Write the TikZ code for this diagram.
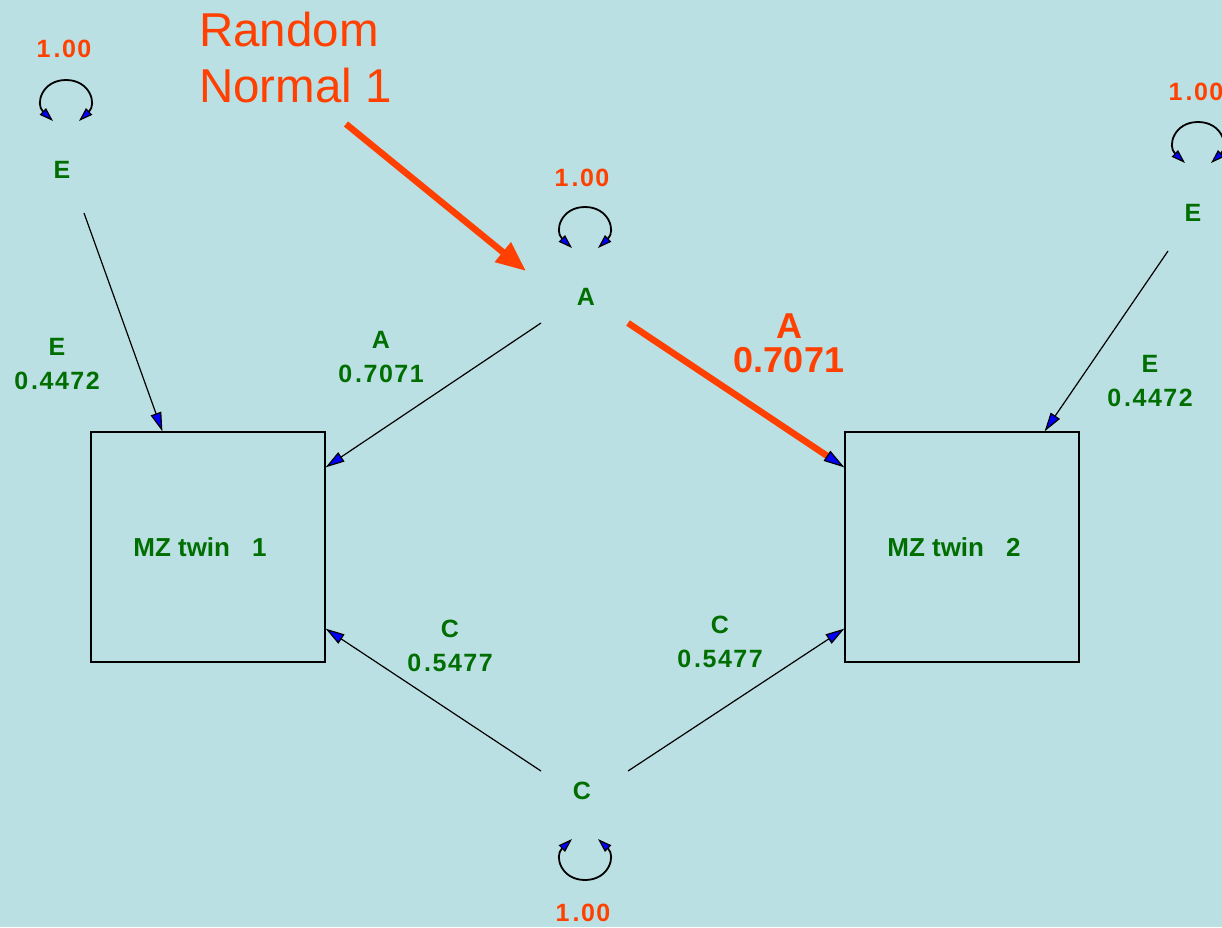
\documentclass[tikz,border=0pt]{standalone}
\usepackage{fontspec}
\setmainfont{Liberation Sans}
\usetikzlibrary{arrows.meta}
\definecolor{bg}{RGB}{187,224,227}
\definecolor{lbl}{RGB}{0,110,0}
\definecolor{hot}{RGB}{255,64,0}
\begin{document}
\begin{tikzpicture}[x=1pt,y=-1pt,
  lab/.style={font=\bfseries\fontsize{25}{34}\selectfont\addfontfeature{LetterSpace=6}, text=lbl, align=center, inner sep=0},
  val/.style={font=\bfseries\fontsize{25}{25}\selectfont\addfontfeature{LetterSpace=6}, text=hot, inner sep=0},
  big/.style={font=\bfseries\fontsize{36}{34}\selectfont, text=hot, align=center, inner sep=0},
  box/.style={draw, line width=1.2pt, minimum width=234pt, minimum height=230pt, inner sep=0,
    font=\bfseries\fontsize{26}{28}\selectfont, text=lbl},
  conn/.style={line width=1.2pt, -{Triangle[length=19pt,width=11pt,fill=blue]}},
  hotconn/.style={draw=hot, line width=6.5pt, -{Triangle[length=21pt,width=12pt,fill=blue,color=black,line width=1.2pt]}},
  loopst/.style={line width=1.8pt, {Triangle[length=14pt,width=9pt,fill=blue,line width=1.2pt]}-{Triangle[length=14pt,width=9pt,fill=blue,line width=1.2pt]}},
  uloop/.pic={\draw[loopst] (-13,18) .. controls (-31,1) and (-24,-23) .. (0,-23) .. controls (24,-23) and (31,1) .. (13,18);},
  dloop/.pic={\draw[loopst] (-13,-18) .. controls (-31,-1) and (-24,23) .. (0,23) .. controls (24,23) and (31,-1) .. (13,-18);}
]
\fill[bg] (0,0) rectangle (1222,927);
\useasboundingbox (0,0) rectangle (1222,927);

% boxes
\node[box] (t1) at (208,547) {\hspace{-16pt}MZ twin\hspace{0.85em}1};
\node[box] (t2) at (962,547) {\hspace{-16pt}MZ twin\hspace{0.85em}2};

% latent variables
\node[lab] (EL) at (62,170) {E};
\node[lab] (A) at (586,297) {A};
\node[lab] (ER) at (1193,213) {E};
\node[lab] (C) at (582,791) {C};

% variances
\node[val] (vEL) at (64,49) {1\hspace{3pt}.00};
\node[val] (vA) at (582,178) {1\hspace{3pt}.00};
\node[val] (vER) at (1196,92) {1\hspace{3pt}.00};
\node[val] (vC) at (583,913) {1\hspace{3pt}.00};
\pic at (66,103) {uloop};
\pic at (585,230) {uloop};
\pic at (1198,145) {uloop};
\pic at (585,857) {dloop};

% connector ends
\coordinate (ELs) at ([shift={(22,43)}]EL);
\coordinate (ERs) at ([shift={(-25,38)}]ER);
\coordinate (Al) at ([shift={(-45,26)}]A);
\coordinate (Ar) at ([shift={(42,26)}]A);
\coordinate (Ain) at ([shift={(-60,-26)}]A);
\coordinate (Cl) at ([shift={(-41,-20)}]C);
\coordinate (Cr) at ([shift={(46,-20)}]C);
\coordinate (t1top) at ([xshift=72pt]t1.north west);
\coordinate (t2top) at ([xshift=-35pt]t2.north east);
\coordinate (t1a) at ([yshift=-36pt]t1.north east);
\coordinate (t2a) at ([yshift=-36pt]t2.north west);
\coordinate (t1c) at ([yshift=34pt]t1.south east);
\coordinate (t2c) at ([yshift=34pt]t2.south west);

\draw[conn] (ELs) -- (t1top);
\draw[conn] (ERs) -- (t2top);
\draw[conn] (Al) -- (t1a);
\draw[hotconn] (Ar) -- (t2a);
\draw[conn] (Cl) -- (t1c);
\draw[conn] (Cr) -- (t2c);

% path labels
\node[lab] (lEL) at (57,364) {E\\0\hspace{3pt}.4472};
\node[lab] (lAL) at (381,357) {A\\0\hspace{3pt}.7071};
\node[big] (lAR) at (789,343) {A\\0.7071};
\node[lab] (lER) at (1150,381) {E\\0\hspace{3pt}.4472};
\node[lab] (lCL) at (450,646) {C\\0\hspace{3pt}.5477};
\node[lab] (lCR) at (720,642) {C\\0\hspace{3pt}.5477};

% annotation
\node[font=\fontsize{47.5}{56}\selectfont, text=hot, align=left, inner sep=0, anchor=base west] (rn) at (199,102) {Random\\Normal 1};
\coordinate (rns) at (346,124);
\draw[hot, line width=6.5pt, -{Triangle[length=30pt,width=24pt]}] (rns) -- (Ain);
\end{tikzpicture}
\end{document}
